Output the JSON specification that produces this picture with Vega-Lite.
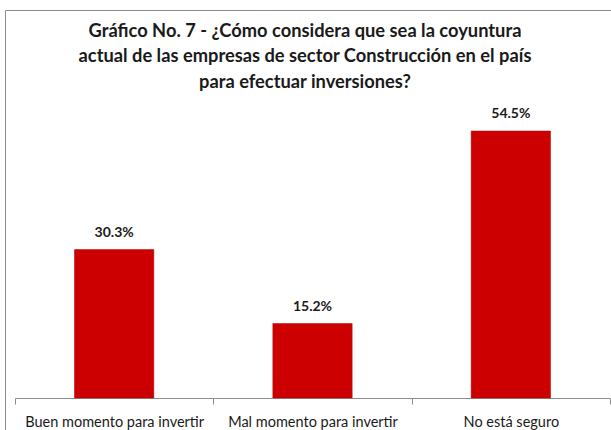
{
  "$schema": "https://vega.github.io/schema/vega-lite/v6.json",
  "width": 620,
  "height": 430,
  "autosize": {"type": "none"},
  "padding": {"left": 5, "top": 10, "right": 0, "bottom": 0},
  "background": "white",
  "title": {
    "text": ["Gráfico No. 7 - ¿Cómo considera que sea la coyuntura", "actual de las empresas de sector Construcción en el país", "para efectuar inversiones?"],
    "font": "Lato",
    "fontWeight": "bold",
    "fontSize": 18.3,
    "lineHeight": 25.5,
    "color": "#1a1a1a",
    "anchor": "middle",
    "offset": -82,
    "dx": -10
  },
  "data": {
    "values": [
      {"categoria": "Buen momento para invertir", "valor": 0.303},
      {"categoria": "Mal momento para invertir", "valor": 0.152},
      {"categoria": "No está seguro", "valor": 0.545}
    ]
  },
  "encoding": {
    "x": {
      "field": "categoria",
      "type": "nominal",
      "sort": null,
      "scale": {"range": [10, 605], "paddingInner": 0, "paddingOuter": 0},
      "axis": {
        "title": null,
        "orient": "bottom",
        "offset": -42,
        "labelAngle": 0,
        "labelFont": "Lato",
        "labelFontSize": 14.5,
        "labelColor": "#1a1a1a",
        "labelPadding": 11,
        "tickBand": "extent",
        "tickSize": 6,
        "tickColor": "#8c8c8c",
        "domainColor": "#8c8c8c",
        "grid": false
      }
    },
    "y": {
      "field": "valor",
      "type": "quantitative",
      "scale": {"domain": [0, 0.792], "range": [388, 0]},
      "axis": null
    }
  },
  "layer": [
    {
      "mark": {"type": "bar", "width": {"band": 0.4}, "fill": "#CC0000", "stroke": "#B30000", "strokeWidth": 0.5}
    },
    {
      "mark": {"type": "text", "dy": -17, "font": "Lato", "fontWeight": "bold", "fontSize": 14, "color": "#1a1a1a"},
      "encoding": {"text": {"field": "valor", "type": "quantitative", "format": ".1%"}}
    }
  ],
  "config": {
    "view": {"stroke": "#8c8c8c", "strokeWidth": 1}
  }
}
